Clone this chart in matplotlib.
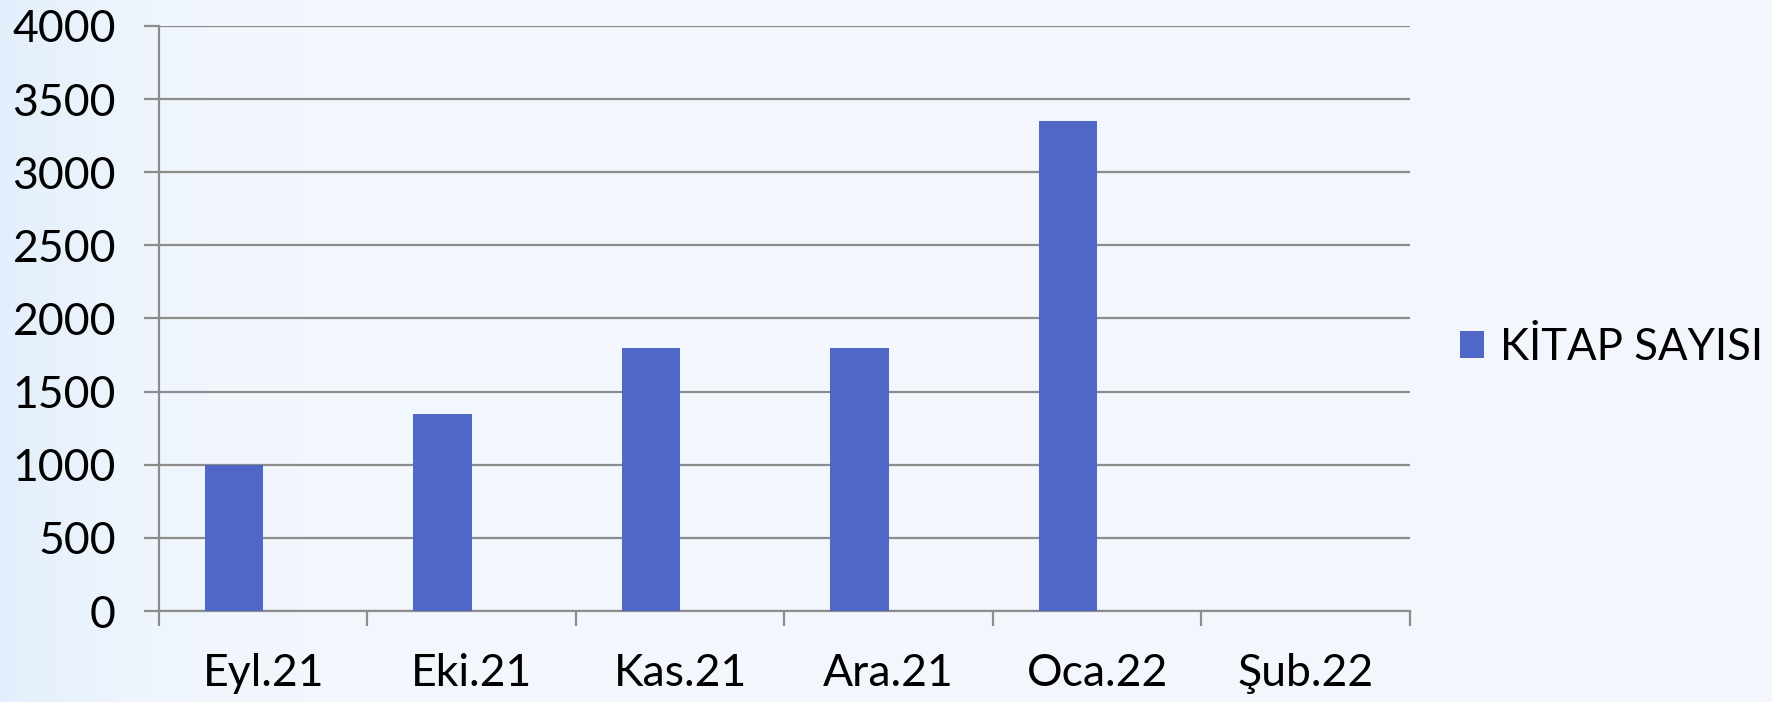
import matplotlib
matplotlib.use("Agg")
import matplotlib.pyplot as plt
import numpy as np

# monthly book counts
months = ["Eyl.21", "Eki.21", "Kas.21", "Ara.21", "Oca.22", "Şub.22"]
kitap_sayisi = [1000, 1350, 1800, 1800, 3350, 0]
series_name = "KİTAP SAYISI"
y_ticks = [0, 500, 1000, 1500, 2000, 2500, 3000, 3500, 4000]

plt.rcParams['font.family'] = ['Lato', 'DejaVu Sans']

bar_color = '#4F67C6'
grid_color = '#8C8C8C'

fig = plt.figure(figsize=(17.72, 7.02), dpi=100)

# soft blue background, a bit stronger on the left edge
bg = fig.add_axes([0, 0, 1, 1], zorder=-10)
gx = np.linspace(0, 1, 400)
gy = np.linspace(0, 1, 160)
X, Y = np.meshgrid(gx, gy)
shade = 0.6 * np.exp(-X / 0.07)
base = np.array([0.955, 0.972, 0.993])
edge = np.array([0.84, 0.91, 0.98])
img = base[None, None, :] * (1 - shade[..., None]) + edge[None, None, :] * shade[..., None]
bg.imshow(img, aspect='auto', extent=[0, 1, 0, 1], origin='lower')
bg.axis('off')

ax = fig.add_axes([0.0897, 0.1296, 0.7060, 0.8334])
ax.patch.set_alpha(0)

x = np.arange(len(months))
w = 0.28
bars = ax.bar(x - w / 2, kitap_sayisi, width=w, color=bar_color, label=series_name, zorder=3)

ax.set_ylim(0, 4000)
ax.set_xlim(-0.5, len(months) - 0.5)
ax.set_yticks(y_ticks)
ax.set_yticklabels([str(v) for v in y_ticks])
ax.yaxis.grid(True, color=grid_color, linewidth=1.6, zorder=0)
ax.set_axisbelow(True)

ax.set_xticks(x)
ax.set_xticklabels(months)
ax.set_xticks(np.arange(len(months) + 1) - 0.5, minor=True)
ax.tick_params(axis='x', which='major', length=0, pad=30, labelsize=32)
ax.tick_params(axis='x', which='minor', length=11, width=1.6, color=grid_color)
ax.tick_params(axis='y', length=11, width=1.6, color=grid_color, pad=20, labelsize=32)

for side in ['top', 'right']:
    ax.spines[side].set_visible(False)
for side in ['left', 'bottom']:
    ax.spines[side].set_color(grid_color)
    ax.spines[side].set_linewidth(1.6)

leg = fig.legend(handles=[bars], labels=[series_name], loc='center left',
                 bbox_to_anchor=(0.824, 0.505), frameon=False, fontsize=31.5,
                 handlelength=0.55, handleheight=0.55, handletextpad=0.35,
                 borderpad=0, borderaxespad=0)

fig.savefig("out.png", dpi=100)
